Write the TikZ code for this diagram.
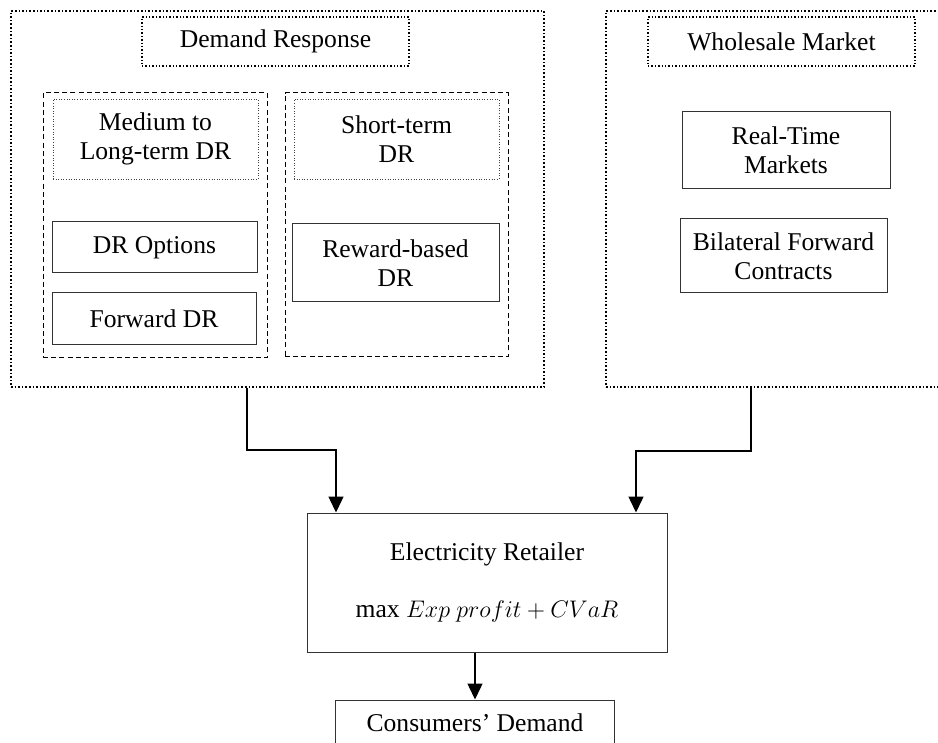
\documentclass[tikz,border=0pt]{standalone}
\usepackage{fontspec}
\setmainfont{Liberation Serif}
\usepackage{tikz}
\usetikzlibrary{arrows.meta}
\tikzset{
  outerbox/.style={draw, line width=0.8pt, densely dotted, inner sep=0pt},
  titlebox/.style={draw, line width=0.7pt, densely dotted},
  groupbox/.style={draw, line width=0.5pt, dash pattern=on 2.5pt off 1.6pt},
  headbox/.style={draw=black!75, line width=0.3pt, densely dotted, align=center},
  itembox/.style={draw=black!80, line width=0.5pt, align=center},
  flow/.style={line width=0.75pt, -{Triangle[width=7.5pt,length=8pt]}}
}
\newcommand{\blk}[6]{\node[#1, minimum width=#4pt, minimum height=#5pt] (#2) at #3 {#6};}

\begin{document}
\begin{tikzpicture}[x=0.5pt, y=-0.5pt, font=\fontsize{12.8}{14.5}\selectfont]
        \useasboundingbox (0,0) rectangle (938,743);
        \clip (0,0) rectangle (938,743);
        % outer frames
        \blk{outerbox}{DRouter}{(277.5,199)}{266.5}{188}{}
        \blk{outerbox}{WMouter}{(778,199)}{172}{188}{}
        % titles
        \blk{titlebox}{DRtitle}{(275.5,41.5)}{133.5}{24.5}{Demand Response}
        \blk{titlebox}{WMtitle}{(781.5,41.5)}{133.5}{24.5}{Wholesale Market}
        % DR groups
        \blk{groupbox}{LongGrp}{(155,225.5)}{112}{132.5}{}
        \blk{groupbox}{ShortGrp}{(396.5,225)}{111.5}{132}{}
        \blk{headbox}{LongHead}{(155.5,139)}{102.5}{40}{Medium to\\Long-term DR}
        \blk{headbox}{ShortHead}{(396.5,139)}{102.5}{40}{Short-term\\DR}
        % DR items
        \blk{itembox}{Options}{(154.5,247.5)}{102.5}{25.5}{DR Options}
        \blk{itembox}{Forward}{(154,319)}{102}{26}{Forward DR}
        \blk{itembox}{Reward}{(395.5,263)}{103.5}{39}{Reward-based\\DR}
        % market items
        \blk{itembox}{RealTime}{(786,150.5)}{104}{38.5}{Real-Time\\Markets}
        \blk{itembox}{Bilateral}{(783.5,256)}{103.5}{37}{Bilateral Forward\\Contracts}
        % retailer and demand
        \blk{itembox}{Retailer}{(487,582.5)}{180}{69.5}{Electricity Retailer\\[14pt]max $Exp\ profit+CVaR$}
        \blk{itembox}{Consumers}{(475,723)}{139.5}{23}{Consumers' Demand}
        % arrows
        \draw[flow] ([xshift=-15.25pt]DRouter.south) -- ++(0,-31pt) -| ([xshift=-75.5pt]Retailer.north);
        \draw[flow] ([xshift=-13.5pt]WMouter.south) -- ++(0,-31.5pt) -| ([xshift=74.5pt]Retailer.north);
        \draw[flow] ([xshift=-6pt]Retailer.south) -- (Consumers.north);
\end{tikzpicture}
\end{document}
